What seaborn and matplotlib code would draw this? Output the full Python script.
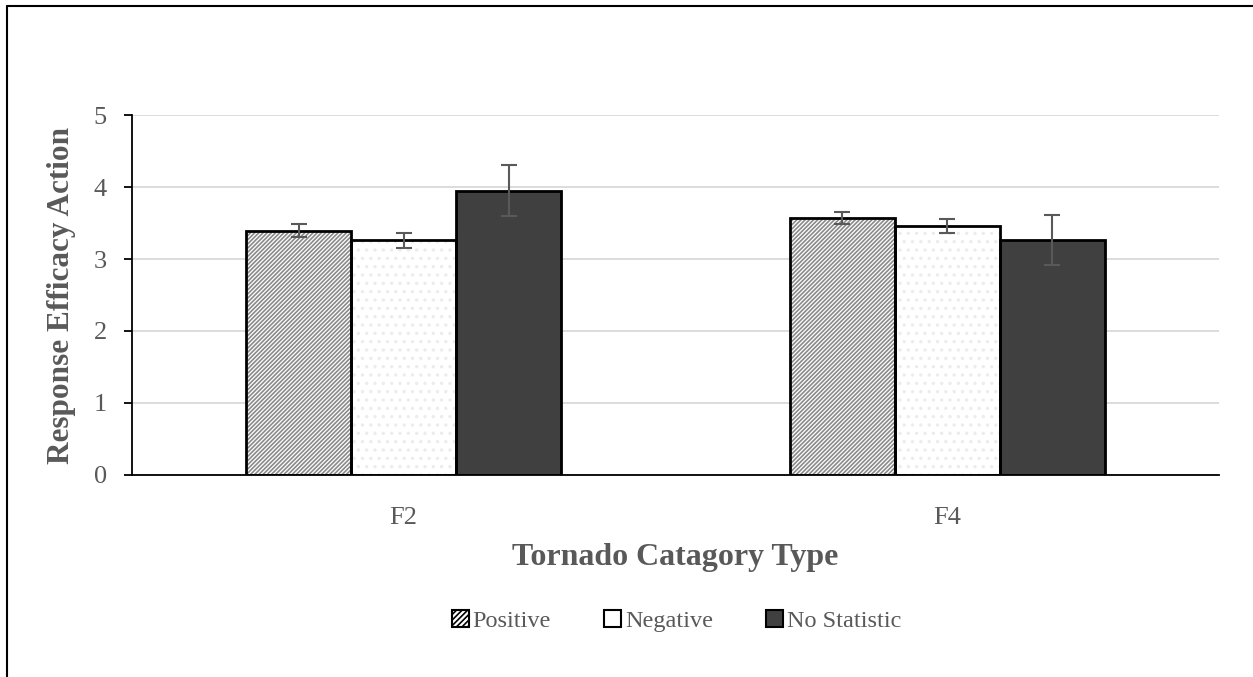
import matplotlib
matplotlib.use("Agg")
import matplotlib.pyplot as plt
import seaborn as sns
import pandas as pd
from matplotlib.patches import Rectangle, Patch
from matplotlib.lines import Line2D

# values
categories = ["F2", "F4"]
groups = ["Positive", "Negative", "No Statistic"]
means = {
    "Positive": [3.39, 3.57],
    "Negative": [3.26, 3.46],
    "No Statistic": [3.95, 3.26],
}
errors = {
    "Positive": [0.09, 0.085],
    "Negative": [0.105, 0.10],
    "No Statistic": [0.35, 0.345],
}
y_ticks = [0, 1, 2, 3, 4, 5]

rows = []
for g in groups:
    for c, m, e in zip(categories, means[g], errors[g]):
        rows.append({"cat": c, "group": g, "mean": m, "err": e})
df = pd.DataFrame(rows)

sns.set_theme(style="white")
plt.rcParams["font.family"] = ["Liberation Serif", "DejaVu Serif"]
plt.rcParams["hatch.linewidth"] = 1.2
text_col = "#595959"

fig = plt.figure(figsize=(12.53, 6.77), dpi=100)
ax = fig.add_axes([0.1053, 0.2984, 0.8675, 0.5317])

fills = {"Positive": "white", "Negative": "white", "No Statistic": "#404040"}
hatches = {"Positive": "////////", "Negative": "..", "No Statistic": None}
hatch_cols = {"Positive": "#8a8a8a", "Negative": "#ececec", "No Statistic": "#404040"}

sns.barplot(data=df, x="cat", y="mean", hue="group", order=categories,
            hue_order=groups, palette=fills, width=0.58, errorbar=None,
            ax=ax, legend=False, zorder=2)

# bars are ordered by hue then category
for i, p in enumerate(ax.patches[:len(df)]):
    g = groups[i // len(categories)]
    p.set_facecolor(fills[g])
    p.set_edgecolor(hatch_cols[g])
    p.set_linewidth(0)
    if hatches[g]:
        p.set_hatch(hatches[g])
    ax.add_patch(Rectangle(p.get_xy(), p.get_width(), p.get_height(),
                           fill=False, edgecolor="black", linewidth=2, zorder=3))
    row = df.iloc[i]
    ax.errorbar(p.get_x() + p.get_width() / 2, row["mean"], yerr=row["err"],
                fmt="none", ecolor="#595959", elinewidth=1.5, capsize=5.5,
                capthick=1.5, zorder=4)

ax.set_xlim(-0.5, 1.5)
ax.set_ylim(0, 5)
ax.set_yticks(y_ticks)
ax.yaxis.grid(True, color="#d9d9d9", linewidth=1.3)
ax.set_axisbelow(True)
for s in ["top", "right"]:
    ax.spines[s].set_visible(False)
ax.spines["left"].set_color("black")
ax.spines["bottom"].set_color("black")
ax.spines["left"].set_linewidth(1.3)
ax.spines["bottom"].set_linewidth(1.3)
ax.tick_params(axis="y", left=True, length=6, width=1.3, color="black",
               labelsize=19, labelcolor=text_col, pad=12)
ax.tick_params(axis="x", bottom=False, labelsize=19, labelcolor=text_col, pad=17)
ax.set_xlabel("Tornado Catagory Type", fontsize=23, fontweight="bold",
              color=text_col, labelpad=10)
ax.set_ylabel("Response Efficacy Action", fontsize=22.5, fontweight="bold",
              color=text_col, labelpad=13)

handles = [Patch(facecolor=fills[g], edgecolor="black",
                 hatch="//////" if g == "Positive" else None,
                 linewidth=1.5) for g in groups]
fig.legend(handles, groups, loc="center", bbox_to_anchor=(0.54, 0.083), ncol=3,
           frameon=False, fontsize=17.5, labelcolor=text_col, handlelength=0.7,
           handleheight=0.7, handletextpad=0.15, columnspacing=2.2)

# chart border (only top and left visible in the reference)
fig.add_artist(Line2D([0.0056, 1], [0.9905, 0.9905], color="black", linewidth=1.5,
                      transform=fig.transFigure))
fig.add_artist(Line2D([0.0056, 0.0056], [0, 0.9905], color="black", linewidth=1.5,
                      transform=fig.transFigure))

fig.savefig("out.png", dpi=100)
